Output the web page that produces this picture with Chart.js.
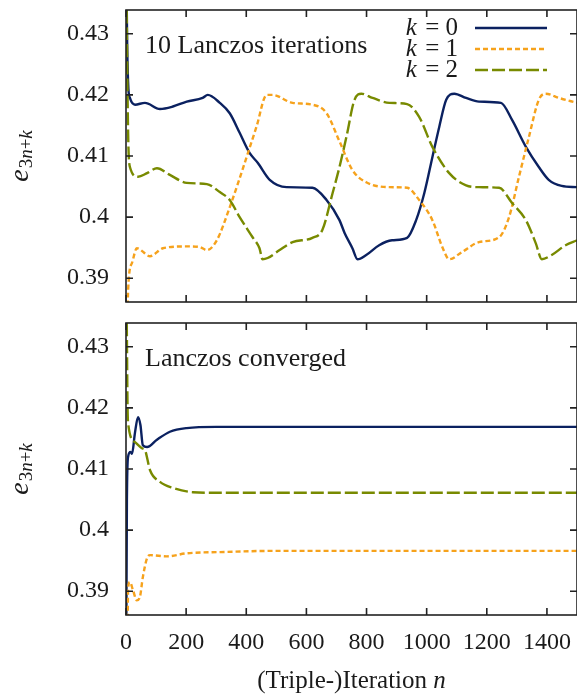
<!DOCTYPE html>
<html>
<head>
<meta charset="utf-8">
<script src="https://cdn.jsdelivr.net/npm/chart.js@4.4.0/dist/chart.umd.min.js"></script>
<style>
  html, body { margin: 0; padding: 0; background: #fff; }
  #wrap { position: relative; width: 577px; height: 694px; }
  canvas { position: absolute; left: 0; }
  #chartTop { top: 0; }
  #chartBottom { top: 313px; }
</style>
</head>
<body>
<div id="wrap">
  <canvas id="chartTop" width="577" height="312"></canvas>
  <canvas id="chartBottom" width="577" height="381"></canvas>
</div>
<script>
// axes
const xTicks = [0, 200, 400, 600, 800, 1000, 1200, 1400];
const xTickLabels = ["0", "200", "400", "600", "800", "1000", "1200", "1400"];
const yTicks = [0.39, 0.40, 0.41, 0.42, 0.43];
const yTickLabels = ["0.39", "0.4", "0.41", "0.42", "0.43"];
const seriesK = ["0", "1", "2"];

// 10 Lanczos iterations (top panel)
const topN0 = [0, 4, 8, 13, 30, 63, 113, 156, 202, 255, 272, 312, 345, 378, 411, 438, 478, 534, 620, 667, 710, 727, 753, 770, 799, 842, 885, 935, 965, 992, 1019, 1042, 1065, 1092, 1131, 1174, 1247, 1284, 1330, 1373, 1406, 1449, 1500];
const topE0 = [0.445, 0.428, 0.421, 0.4195, 0.4184, 0.4187, 0.4177, 0.4181, 0.4189, 0.4195, 0.4200, 0.4187, 0.4170, 0.4138, 0.4105, 0.4089, 0.4061, 0.4049, 0.4048, 0.4028, 0.3995, 0.3974, 0.3949, 0.3931, 0.3938, 0.3954, 0.3962, 0.3966, 0.3995, 0.4039, 0.4098, 0.4148, 0.4192, 0.4202, 0.4195, 0.4189, 0.4187, 0.4159, 0.4115, 0.4082, 0.4061, 0.4051, 0.4049];
const topN1 = [3, 7, 20, 36, 80, 123, 202, 245, 269, 302, 345, 401, 434, 468, 487, 554, 620, 667, 710, 753, 799, 876, 935, 975, 1019, 1052, 1075, 1118, 1174, 1241, 1274, 1307, 1340, 1373, 1396, 1440, 1500];
const topE1 = [0.375, 0.388, 0.3925, 0.3949, 0.3936, 0.3949, 0.3952, 0.3951, 0.3946, 0.3962, 0.4016, 0.4098, 0.4148, 0.4200, 0.4200, 0.4187, 0.4184, 0.4170, 0.4124, 0.4077, 0.4057, 0.4049, 0.4048, 0.4028, 0.3995, 0.3951, 0.3931, 0.3943, 0.3959, 0.3967, 0.4000, 0.4066, 0.4131, 0.4192, 0.4202, 0.4195, 0.4187];
const topN2 = [0, 3, 7, 13, 40, 70, 103, 146, 202, 269, 312, 345, 378, 421, 444, 454, 471, 511, 554, 620, 653, 687, 710, 733, 760, 783, 820, 876, 935, 975, 1019, 1075, 1131, 1174, 1241, 1284, 1330, 1363, 1383, 1416, 1462, 1500];
const topE2 = [0.445, 0.430, 0.4138, 0.4082, 0.4066, 0.4072, 0.4080, 0.4069, 0.4056, 0.4054, 0.4041, 0.4028, 0.4000, 0.3967, 0.3949, 0.3931, 0.3933, 0.3946, 0.3959, 0.3966, 0.3979, 0.4039, 0.4082, 0.4131, 0.4192, 0.4202, 0.4195, 0.4187, 0.4185, 0.4164, 0.4115, 0.4072, 0.4052, 0.4049, 0.4048, 0.4023, 0.3995, 0.3957, 0.3931, 0.3938, 0.3954, 0.3962];

// Lanczos converged (bottom panel)
const botN0 = [0, 3, 7, 15, 20, 30, 40, 48, 56, 70, 103, 146, 202, 300, 800, 1500];
const botE0 = [0.370, 0.405, 0.4120, 0.4128, 0.4125, 0.4160, 0.4185, 0.4172, 0.4139, 0.4136, 0.4148, 0.4161, 0.4167, 0.4169, 0.4169, 0.4169];
const botN1 = [4, 7, 13, 23, 36, 46, 56, 70, 80, 136, 202, 312, 500, 1500];
const botE1 = [0.375, 0.3905, 0.3915, 0.3902, 0.3885, 0.3890, 0.3923, 0.3954, 0.3959, 0.3957, 0.3962, 0.3964, 0.3966, 0.3966];
const botN2 = [0, 3, 5, 7, 30, 53, 63, 80, 113, 156, 222, 312, 800, 1500];
const botE2 = [0.445, 0.4316, 0.4208, 0.4175, 0.4144, 0.4134, 0.4131, 0.4098, 0.4079, 0.4069, 0.4062, 0.4061, 0.4061, 0.4061];

const colors = ["#0b2160", "#f6a21c", "#788a00"];
const dashes = [[], [5, 3], [13, 4]];
const serif = "'Liberation Serif', 'DejaVu Serif', serif";

function pts(ns, es) {
  return ns.map((n, i) => ({ x: n, y: es[i] }));
}

function makeDatasets(series) {
  return series.map((s, i) => ({
    label: "k = " + seriesK[i],
    data: pts(s[0], s[1]),
    borderColor: colors[i],
    borderDash: dashes[i],
    borderWidth: 2.4,
    pointRadius: 0,
    fill: false,
    cubicInterpolationMode: "monotone",
    order: 3 - i
  }));
}

// frame, inward ticks, labels, legend
const decorPlugin = {
  id: "decor",
  afterDraw(chart, args, opts) {
    const { ctx, chartArea: a } = chart;
    const x = chart.scales.x, y = chart.scales.y;
    ctx.save();
    ctx.strokeStyle = "#222";
    ctx.lineWidth = 1.6;
    ctx.strokeRect(a.left, a.top, a.right - a.left, a.bottom - a.top);
    ctx.beginPath();
    xTicks.forEach(v => {
      const px = x.getPixelForValue(v);
      ctx.moveTo(px, a.bottom); ctx.lineTo(px, a.bottom - 7);
      ctx.moveTo(px, a.top); ctx.lineTo(px, a.top + 7);
    });
    yTicks.forEach(v => {
      const py = y.getPixelForValue(v);
      ctx.moveTo(a.left, py); ctx.lineTo(a.left + 7, py);
      ctx.moveTo(a.right, py); ctx.lineTo(a.right - 7, py);
    });
    ctx.stroke();

    ctx.fillStyle = "#1a1a1a";
    ctx.textBaseline = "alphabetic";

    // panel note
    ctx.font = "26px " + serif;
    ctx.textAlign = "left";
    ctx.fillText(opts.note, 145, 53);

    // y label e_{3n+k}
    ctx.save();
    ctx.translate(28, (a.top + a.bottom) / 2);
    ctx.rotate(-Math.PI / 2);
    const big = "italic 28px " + serif, sub = "italic 19px " + serif, subUp = "19px " + serif;
    ctx.font = big; const we = ctx.measureText("e").width + 1;
    ctx.font = subUp; const w3 = ctx.measureText("3").width;
    ctx.font = sub; const wn = ctx.measureText("n").width;
    ctx.font = subUp; const wp = ctx.measureText("+").width;
    ctx.font = sub; const wk = ctx.measureText("k").width;
    let cx = -(we + w3 + wn + wp + wk) / 2;
    ctx.font = big; ctx.fillText("e", cx, 0); cx += we;
    ctx.font = subUp; ctx.fillText("3", cx, 4); cx += w3;
    ctx.font = sub; ctx.fillText("n", cx, 4); cx += wn;
    ctx.font = subUp; ctx.fillText("+", cx, 4); cx += wp;
    ctx.font = sub; ctx.fillText("k", cx, 4);
    ctx.restore();

    if (opts.legend) {
      const rowsY = [28, 49, 70];
      chart.data.datasets.forEach((ds, i) => {
        const ly = rowsY[i];
        ctx.font = "25px " + serif;
        const rest = " = " + seriesK[i];
        const wr = ctx.measureText(rest).width;
        ctx.textAlign = "right";
        ctx.fillStyle = "#1a1a1a";
        ctx.fillText(rest, 458, ly + 7);
        ctx.font = "italic 25px " + serif;
        ctx.fillText("k", 458 - wr - 2, ly + 7);
        ctx.beginPath();
        ctx.strokeStyle = ds.borderColor;
        ctx.lineWidth = ds.borderWidth;
        ctx.setLineDash(ds.borderDash);
        ctx.moveTo(475, ly); ctx.lineTo(547, ly);
        ctx.stroke();
        ctx.setLineDash([]);
      });
    }

    if (opts.xTitle) {
      ctx.font = "25px " + serif;
      const t1 = "(Triple-)Iteration ";
      const w1 = ctx.measureText(t1).width;
      ctx.font = "italic 25px " + serif;
      const w2 = ctx.measureText("n").width;
      const sx = (a.left + a.right) / 2 - (w1 + w2) / 2;
      ctx.textAlign = "left";
      ctx.font = "25px " + serif;
      ctx.fillText(t1, sx, 375);
      ctx.font = "italic 25px " + serif;
      ctx.fillText("n", sx + w1, 375);
    }
    ctx.restore();
  }
};

function makeChart(id, series, note, isBottom) {
  return new Chart(document.getElementById(id), {
    type: "line",
    data: { datasets: makeDatasets(series) },
    plugins: [decorPlugin],
    options: {
      responsive: false,
      animation: false,
      layout: { padding: { top: 10, left: 0, right: 0, bottom: 0 } },
      plugins: {
        legend: { display: false },
        tooltip: { enabled: false },
        decor: { note: note, legend: !isBottom, xTitle: isBottom }
      },
      scales: {
        x: {
          type: "linear",
          min: 0,
          max: 1500,
          afterBuildTicks: s => { s.ticks = xTicks.map(v => ({ value: v })); },
          afterFit: s => { s.height = isBottom ? 79 : 10; s.paddingLeft = 0; s.paddingRight = 0; },
          grid: { display: false, drawTicks: false },
          border: { display: false },
          ticks: {
            display: isBottom,
            padding: 13,
            maxRotation: 0,
            autoSkip: false,
            color: "#1a1a1a",
            font: { family: serif, size: 24 },
            callback: v => xTickLabels[xTicks.indexOf(v)]
          }
        },
        y: {
          min: 0.3861,
          max: 0.4339,
          afterBuildTicks: s => { s.ticks = yTicks.map(v => ({ value: v })); },
          afterFit: s => { s.width = 126; s.paddingTop = 0; s.paddingBottom = 0; },
          grid: { display: false, drawTicks: false },
          border: { display: false },
          ticks: {
            padding: 17,
            autoSkip: false,
            color: "#1a1a1a",
            font: { family: serif, size: 24 },
            callback: v => yTickLabels[yTicks.findIndex(t => Math.abs(t - v) < 1e-9)]
          }
        }
      }
    }
  });
}

makeChart("chartTop", [[topN0, topE0], [topN1, topE1], [topN2, topE2]], "10 Lanczos iterations", false);
makeChart("chartBottom", [[botN0, botE0], [botN1, botE1], [botN2, botE2]], "Lanczos converged", true);
</script>
</body>
</html>
